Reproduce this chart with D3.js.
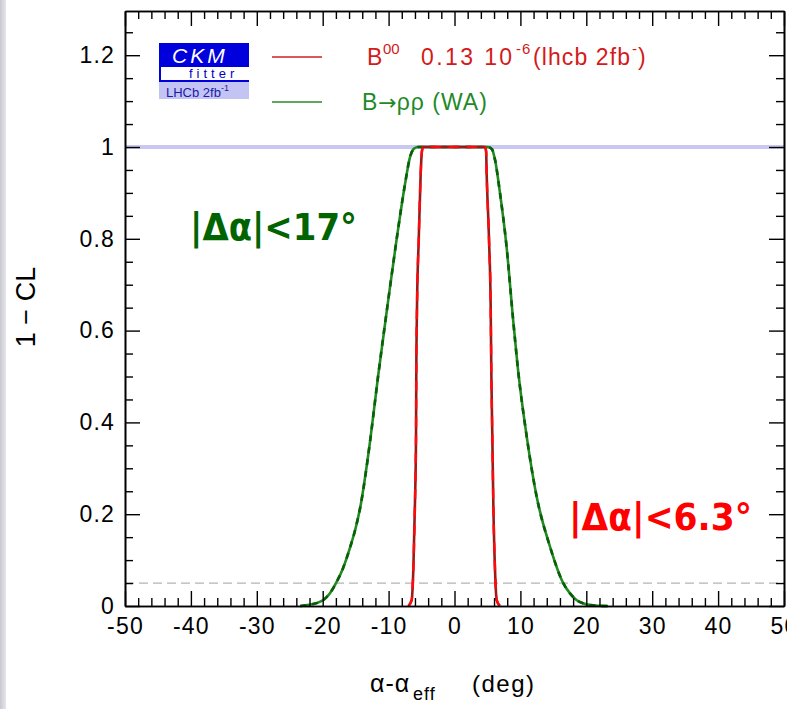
<!DOCTYPE html>
<html><head><meta charset="utf-8">
<script src="https://cdn.jsdelivr.net/npm/d3@7"></script>
<style>
html,body{margin:0;padding:0;background:#fff;}
svg{display:block;}
</style></head>
<body>
<script>
// ---- data ----
const greenX = [-23.4,-22.4,-21.0,-19.9,-18.9,-17.9,-16.9,-15.9,-15.0,-14.3,-12.8,-11.6,-10.05,-8.8,-7.5,-6.75,-6.1,-5.5,5.1,5.7,6.15,6.9,7.9,8.9,9.6,10.96,12.47,14.5,16.5,17.5,18.5,19.5,20.6,22.0,23.3];
const greenY = [0,0.002,0.006,0.013,0.028,0.052,0.083,0.125,0.17,0.215,0.36,0.5,0.667,0.797,0.92,0.978,0.997,1,1,0.995,0.972,0.9,0.783,0.623,0.52,0.369,0.238,0.129,0.05,0.028,0.013,0.006,0.002,0.0005,0];
const redX = [-7.0,-6.5,-6.25,-6.0,-5.84,-5.8,-5.69,-5.43,-5.13,-4.95,-4.78,4.63,4.8,4.88,5.24,5.49,5.59,5.74,5.89,6.15,6.4,6.9];
const redY = [0,0.013,0.078,0.224,0.369,0.5,0.652,0.797,0.943,0.99,1,1,0.99,0.943,0.797,0.652,0.507,0.369,0.224,0.078,0.013,0];
const xMajorTicks = [-50,-40,-30,-20,-10,0,10,20,30,40,50];
const yMajorTicks = [0,0.2,0.4,0.6,0.8,1,1.2];
const xTickLabels = ["-50","-40","-30","-20","-10","0","10","20","30","40","50"];
const yTickLabels = ["0","0.2","0.4","0.6","0.8","1","1.2"];
const clLine = 0.05;      // dashed reference line
const topLine = 1;        // lavender line

// ---- layout ----
const W = 787, H = 709;
const L = 125, R = 784, T = 11, B = 606;
const x = d3.scaleLinear().domain([-50,50]).range([L,R]);
const y = d3.scaleLinear().domain([0,1.2963]).range([B,T]);

const svg = d3.select("body").append("svg").attr("width",W).attr("height",H);
const defs = svg.append("defs");
const g = defs.append("linearGradient").attr("id","lg").attr("x1","0").attr("x2","1");
g.append("stop").attr("offset","0").attr("stop-color","#c8c8d0");
g.append("stop").attr("offset","1").attr("stop-color","#e6e6ea");
svg.append("rect").attr("x",0).attr("y",0).attr("width",W).attr("height",H).attr("fill","#fff");
svg.append("rect").attr("x",0).attr("y",0).attr("width",6).attr("height",H).attr("fill","url(#lg)");

const font = "'Liberation Sans', Arial, Helvetica, sans-serif";

// reference lines
svg.append("line").attr("x1",L).attr("x2",R).attr("y1",y(topLine)).attr("y2",y(topLine))
  .attr("stroke","#c8c8f2").attr("stroke-width",4);
svg.append("line").attr("x1",L).attr("x2",R).attr("y1",y(clLine)).attr("y2",y(clLine))
  .attr("stroke","#b4b4b4").attr("stroke-width",1.3).attr("stroke-dasharray","9,5");

// curves
const line = d3.line().x(d=>x(d[0])).y(d=>y(d[1])).curve(d3.curveMonotoneX);
const gData = greenX.map((v,i)=>[v,greenY[i]]);
const rData = redX.map((v,i)=>[v,redY[i]]);
svg.append("path").attr("d",line(gData)).attr("fill","none").attr("stroke","#1e8c1e").attr("stroke-width",2.6);
svg.append("path").attr("d",line(gData)).attr("fill","none").attr("stroke","#0b5c0b").attr("stroke-width",2.6).attr("stroke-dasharray","6,6");
svg.append("path").attr("d",line(rData)).attr("fill","none").attr("stroke","#a01818").attr("stroke-width",2.6);
svg.append("path").attr("d",line(rData)).attr("fill","none").attr("stroke","#ff0a0a").attr("stroke-width",2.4).attr("stroke-dasharray","10,8");

// axes
const xMinor = d3.range(-50,51,2).filter(v=>v%10!==0);
const yMinor = d3.range(0,1.29,0.05).map(v=>+v.toFixed(2)).filter(v=>Math.abs(v*5-Math.round(v*5))>1e-6);
function styleAxis(sel){
  sel.selectAll("path.domain").attr("stroke","#000").attr("stroke-width",1.6);
  sel.selectAll("line").attr("stroke","#000").attr("stroke-width",1.4);
  sel.selectAll("text").attr("font-family",font).attr("font-size",23).attr("fill","#000").attr("letter-spacing","1.2px");
}
const ax = [
  [d3.axisBottom(x).tickValues(xMajorTicks).tickSize(-15).tickSizeOuter(0).tickPadding(12).tickFormat((d,i)=>xTickLabels[i]), `translate(0,${B})`],
  [d3.axisBottom(x).tickValues(xMinor).tickSize(-8).tickSizeOuter(0).tickFormat(""), `translate(0,${B})`],
  [d3.axisTop(x).tickValues(xMajorTicks).tickSize(-15).tickSizeOuter(0).tickFormat(""), `translate(0,${T})`],
  [d3.axisTop(x).tickValues(xMinor).tickSize(-8).tickSizeOuter(0).tickFormat(""), `translate(0,${T})`],
  [d3.axisLeft(y).tickValues(yMajorTicks).tickSize(-15).tickSizeOuter(0).tickPadding(10).tickFormat((d,i)=>yTickLabels[i]), `translate(${L},0)`],
  [d3.axisLeft(y).tickValues(yMinor).tickSize(-8).tickSizeOuter(0).tickFormat(""), `translate(${L},0)`],
  [d3.axisRight(y).tickValues(yMajorTicks).tickSize(-15).tickSizeOuter(0).tickFormat(""), `translate(${R},0)`],
  [d3.axisRight(y).tickValues(yMinor).tickSize(-8).tickSizeOuter(0).tickFormat(""), `translate(${R},0)`],
];
ax.forEach(([a,t])=>{ const s=svg.append("g").attr("transform",t).call(a); styleAxis(s); });

// axis titles
const xt = svg.append("text").attr("x",370).attr("y",692).attr("font-family",font).attr("font-size",25).attr("fill","#000");
xt.append("tspan").attr("letter-spacing","1px").text("α-α");
xt.append("tspan").attr("x",413).attr("dy",8).attr("font-size",18).attr("letter-spacing","1px").text("eff");
xt.append("tspan").attr("x",472).attr("dy",-8).attr("font-size",24).attr("letter-spacing","1.5px").text("(deg)");
svg.append("text").attr("transform","translate(35,307) rotate(-90)").attr("text-anchor","middle")
  .attr("font-family",font).attr("font-size",27).attr("fill","#000").text("1 − CL");

// CKMfitter logo
svg.append("rect").attr("x",159).attr("y",43).attr("width",90).attr("height",24).attr("fill","#0000dc");
svg.append("text").attr("x",172).attr("y",63).attr("font-family",font).attr("font-style","italic")
  .attr("font-size",21).attr("letter-spacing","3px").attr("fill","#fff").text("CKM");
svg.append("rect").attr("x",159).attr("y",67).attr("width",2).attr("height",14).attr("fill","#0000dc");
svg.append("text").attr("x",189).attr("y",78).attr("font-family",font).attr("font-size",13)
  .attr("letter-spacing","4px").attr("fill","#0000c8").text("fitter");
svg.append("rect").attr("x",159).attr("y",80).attr("width",90).attr("height",2).attr("fill","#0000dc");
svg.append("rect").attr("x",159).attr("y",82).attr("width",90).attr("height",17).attr("fill","#c4c4f4");
const lh = svg.append("text").attr("x",166).attr("y",97).attr("font-family",font).attr("font-size",13).attr("fill","#1a1aa8");
lh.append("tspan").text("LHCb 2fb");
lh.append("tspan").attr("dy",-6).attr("font-size",9).text("-1");

// legend
svg.append("line").attr("x1",272).attr("x2",322).attr("y1",57).attr("y2",57).attr("stroke","#cc2020").attr("stroke-width",1.6);
svg.append("line").attr("x1",272).attr("x2",322).attr("y1",102).attr("y2",102).attr("stroke","#2a8a2a").attr("stroke-width",1.6);
const rt = svg.append("text").attr("y",65).attr("font-family",font).attr("font-size",23).attr("fill","#d41a1a");
rt.append("tspan").attr("x",367).text("B");
rt.append("tspan").attr("x",383).attr("dy",-11).attr("font-size",15).text("00");
rt.append("tspan").attr("x",421).attr("dy",11).attr("letter-spacing","2.4px").text("0.13 10");
rt.append("tspan").attr("x",516).attr("dy",-11).attr("font-size",15).attr("letter-spacing","1px").text("-6");
rt.append("tspan").attr("x",533).attr("dy",11).attr("letter-spacing","1.1px").text("(lhcb 2fb");
rt.append("tspan").attr("x",632).attr("dy",-11).attr("font-size",15).text("-");
rt.append("tspan").attr("x",638).attr("dy",11).text(")");
const gt = svg.append("text").attr("x",362).attr("y",110).attr("font-family",font).attr("font-size",23)
  .attr("fill","#1e8a28").attr("letter-spacing","1px");
gt.append("tspan").text("B");
gt.append("tspan").attr("font-family","'DejaVu Sans', sans-serif").attr("font-size",22).attr("letter-spacing","0px").text("→");
gt.append("tspan").text("ρρ (WA)");

// annotations
svg.append("text").attr("x",190).attr("y",240).attr("font-family","'DejaVu Sans', sans-serif").attr("font-weight","bold")
  .attr("font-size",37).attr("fill","#006400").attr("textLength",167).attr("lengthAdjust","spacingAndGlyphs").text("|Δα|<17°");
svg.append("text").attr("x",569).attr("y",530).attr("font-family","'DejaVu Sans', sans-serif").attr("font-weight","bold")
  .attr("font-size",37).attr("fill","#ff0000").attr("textLength",183).attr("lengthAdjust","spacingAndGlyphs").text("|Δα|<6.3°");
</script>
</body></html>
